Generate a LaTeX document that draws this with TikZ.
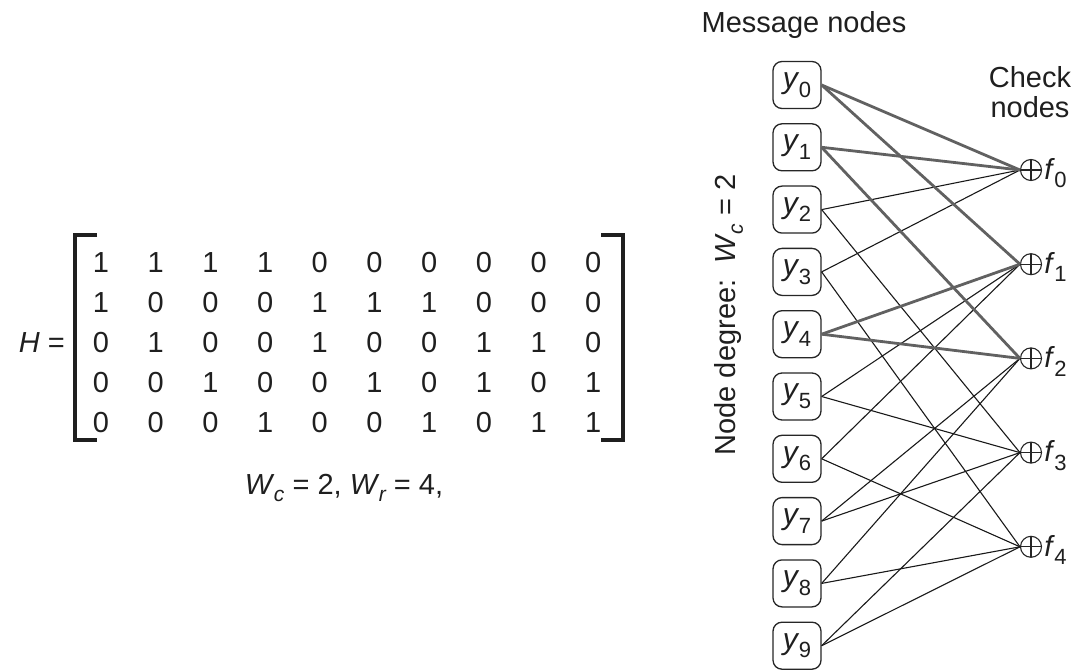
\documentclass[tikz,border=0pt]{standalone}
\usepackage{fontspec}
\setmainfont{Liberation Sans}
\usetikzlibrary{calc}

% italic letter with a lowered upright index
\newcommand{\vsub}[2]{\textit{#1}\kern-0.5pt\raisebox{-0.55ex}{\fontsize{22}{22}\selectfont #2}}
% italic letter with a lowered italic index
\newcommand{\isub}[2]{\textit{#1}\kern-0.5pt\raisebox{-0.45ex}{\fontsize{21}{21}\selectfont\itshape #2}}

\tikzset{
  txt/.style={text=black!88, font=\fontsize{29}{31}\selectfont, inner sep=0pt},
  msgbox/.style={draw=black!85, line width=1.3pt, rounded corners=9pt,
    minimum width=48pt, minimum height=47pt, inner sep=0pt, fill=white,
    text=black!88, font=\fontsize{30}{32}\selectfont},
  chk/.style={circle, draw=black!85, line width=1.1pt, minimum size=21pt, inner sep=0pt,
    path picture={\draw[line width=1.1pt, black!85]
      (path picture bounding box.north) -- (path picture bounding box.south)
      (path picture bounding box.west) -- (path picture bounding box.east);}},
  thinedge/.style={draw=black!90, line width=1.1pt},
  thickedge/.style={draw=black!62, line width=2.8pt},
  brk/.style={draw=black!88, line width=3.2pt, line cap=butt}
}

\begin{document}
\begin{tikzpicture}[x=1pt, y=-1pt]
\useasboundingbox (0,0) rectangle (1082,671);

% ---------- parity-check matrix ----------
\foreach \row [count=\i from 0] in {{1,1,1,1,0,0,0,0,0,0},{1,0,0,0,1,1,1,0,0,0},
    {0,1,0,0,1,0,0,1,1,0},{0,0,1,0,0,1,0,1,0,1},{0,0,0,1,0,0,1,0,1,1}}{
  \foreach \v [count=\c from 0] in \row {
    \node[txt] (m-\i-\c) at ({101+54.7*\c},{263+40*\i}) {\v};
  }
}
\node[txt, anchor=east] (H) at (65,343) {\textit{H} =};
% brackets
\draw[brk] (97,235) -- (75,235) -- (75,440) -- (97,440);
\draw[brk] (601,235) -- (623,235) -- (623,440) -- (601,440);
\node[txt] (wts) at (344,488) {\isub{W}{c} = 2, \isub{W}{r} = 4,};

% ---------- Tanner graph ----------
\node[txt] (mtitle) at (804,25) {Message nodes};
\node[txt, align=center] (ctitle) at (1030,92) {Check\\[-1pt]nodes};
\node[txt, rotate=90] (deg) at (729,315) {Node degree:\ \ \isub{W}{c} = 2};

\foreach \i in {0,...,9}{
  \node[msgbox] (y\i) at (797,{85+62.3*\i}) {\vsub{y}{\i}};
}
\foreach \j in {0,...,4}{
  \node[chk] (f\j) at (1031,{170+94.2*\j}) {};
  \node[txt, anchor=west] (fl\j) at ($(f\j.east)+(2,3)$) {\vsub{f}{\j}};
}

% thin connections (one per 1 in H)
\foreach \a/\b in {2/0,3/0, 5/1,6/1, 7/2,8/2, 2/3,5/3,7/3,9/3, 3/4,6/4,8/4,9/4}{
  \draw[thinedge] (y\a.east) -- (f\b.west);
}
% the highlighted cycle of length six
\foreach \a/\b in {0/0,0/1,1/0,1/2,4/1,4/2}{
  \draw[thickedge] (y\a.east) -- (f\b.west);
}
\end{tikzpicture}
\end{document}
